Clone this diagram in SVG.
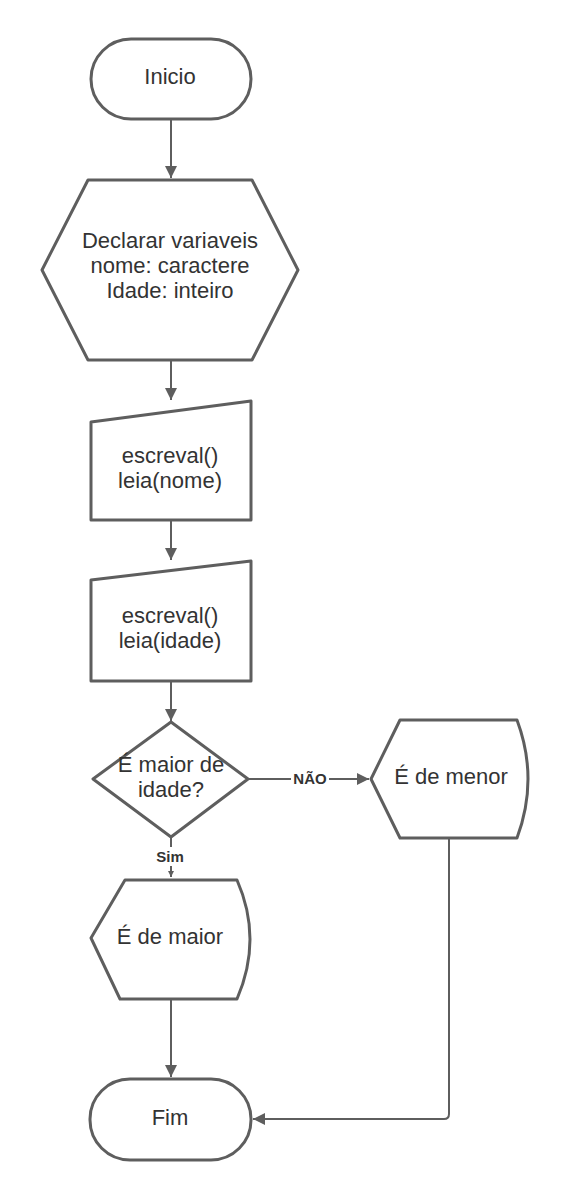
<svg xmlns="http://www.w3.org/2000/svg" width="570" height="1200" viewBox="0 0 570 1200">
<style>
.s{fill:#fff;stroke:#5e5e5e;stroke-width:3;stroke-linejoin:round}
.t{font-family:"Liberation Sans",Arial,sans-serif;font-size:22px;fill:#333;text-anchor:middle}
.c{fill:none;stroke:#5e5e5e;stroke-width:2}
.l{font-family:"Liberation Sans",Arial,sans-serif;font-size:15px;font-weight:bold;fill:#333;text-anchor:middle}
</style>
<defs>
<marker id="a" markerWidth="12" markerHeight="12" viewBox="0 0 12 12" refX="12" refY="6" orient="auto" markerUnits="userSpaceOnUse"><path d="M0,0 L12,6 L0,12 Z" fill="#5e5e5e"/></marker>
<marker id="as" markerWidth="6" markerHeight="6" viewBox="0 0 12 12" refX="12" refY="6" orient="auto" markerUnits="userSpaceOnUse"><path d="M0,0 L12,6 L0,12 Z" fill="#5e5e5e"/></marker>
</defs>
<g id="connectors">
<path class="c" d="M171,120 V178" marker-end="url(#a)"/>
<path class="c" d="M171,361 V400" marker-end="url(#a)"/>
<path class="c" d="M171,521 V560" marker-end="url(#a)"/>
<path class="c" d="M171,682 V721" marker-end="url(#a)"/>
<path class="c" d="M249,779 H369" marker-end="url(#a)"/>
<path class="c" d="M171,838 V877" marker-end="url(#as)"/>
<path class="c" d="M171,1000 V1077" marker-end="url(#a)"/>
<path class="c" d="M449,839 V1114 Q449,1119 444,1119 H253" marker-end="url(#a)"/>
<rect x="291" y="770" width="38" height="18" fill="#fff"/>
<text class="l" x="310" y="784">NÃO</text>
<rect x="152" y="847" width="36" height="19" fill="#fff"/>
<text class="l" x="170" y="862">Sim</text>
</g>
<g id="inicio">
<rect class="s" x="91" y="39" width="160" height="80" rx="40"/>
<text class="t" x="170" y="84">Inicio</text>
</g>
<g id="declarar">
<path class="s" d="M88,180 L252,180 L298,270 L252,360 L88,360 L42,270 Z"/>
<text class="t" x="170" y="248">Declarar variaveis</text>
<text class="t" x="170" y="273">nome: caractere</text>
<text class="t" x="170" y="298">Idade: inteiro</text>
</g>
<g id="leia-nome">
<path class="s" d="M91,422 L251,401 L251,520 L91,520 Z"/>
<text class="t" x="170" y="463">escreval()</text>
<text class="t" x="170" y="488">leia(nome)</text>
</g>
<g id="leia-idade">
<path class="s" d="M91,580 L251,561 L251,681 L91,681 Z"/>
<text class="t" x="170" y="623">escreval()</text>
<text class="t" x="170" y="648">leia(idade)</text>
</g>
<g id="decisao">
<path class="s" d="M171,722 L248,779 L171,837 L93,779 Z"/>
<text class="t" x="171" y="772">É maior de</text>
<text class="t" x="171" y="797">idade?</text>
</g>
<g id="menor">
<path class="s" d="M400,720 L517,720 Q539,779 517,838 L400,838 L371,779 Z"/>
<text class="t" x="451" y="784">É de menor</text>
</g>
<g id="maior">
<path class="s" d="M125,880 L237,880 Q263,939 237,999 L120,999 L91,938 Z"/>
<text class="t" x="170" y="944">É de maior</text>
</g>
<g id="fim">
<rect class="s" x="90" y="1079" width="161" height="81" rx="40"/>
<text class="t" x="170" y="1125">Fim</text>
</g>
</svg>
